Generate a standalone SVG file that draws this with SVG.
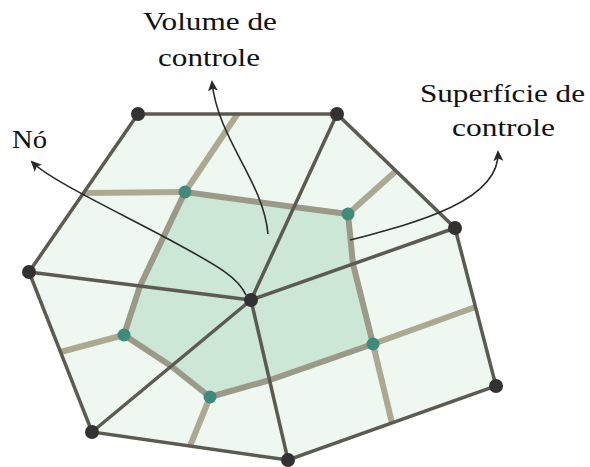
<svg xmlns="http://www.w3.org/2000/svg" width="590" height="467" viewBox="0 0 590 467">
<style>
.lbl{font-family:"Liberation Serif","DejaVu Serif",serif;font-size:25px;fill:#111}
.edge{stroke:#5c5b51;stroke-width:3.5;fill:none;stroke-linecap:round}
.cs{stroke:#9b9a88;stroke-width:6;fill:none;stroke-linejoin:round}
.tan{stroke:#aba990;stroke-width:6;fill:none}
.node{fill:#333133}
.cv{fill:#408a7c}
.arr{stroke:#2a2a2a;stroke-width:1.6;fill:none;marker-end:url(#ah)}
</style>
<defs>
<marker id="ah" markerWidth="12" markerHeight="12" refX="9" refY="5" orient="auto" markerUnits="userSpaceOnUse">
<path d="M0,0 L11,5 L0,10 L2.5,5 Z" fill="#2a2a2a"/>
</marker>
</defs>
<g id="fill">
<polygon points="138,114 337,114 455,228 496,386 288,460 92,432 29,272" fill="#eef8f0"/>
<polygon points="185,192 294,207 348,214 353,264 373,344 270,380 210,397 171,366 124,335 140,286" fill="#cde7d6"/>
</g>
<g id="tan-lines">
<line class="tan" x1="185" y1="192" x2="83.5" y2="193"/>
<line class="tan" x1="185" y1="192" x2="237.5" y2="114"/>
<line class="tan" x1="348" y1="214" x2="396" y2="171"/>
<line class="tan" x1="373" y1="344" x2="475.5" y2="307"/>
<line class="tan" x1="373" y1="344" x2="392" y2="423"/>
<line class="tan" x1="210" y1="397" x2="190" y2="446"/>
<line class="tan" x1="124" y1="335" x2="60.5" y2="352"/>
</g>
<g id="control-surface">
<polygon class="cs" points="185,192 294,207 348,214 353,264 373,344 270,380 210,397 171,366 124,335 140,286"/>
</g>
<g id="connectors">
<polygon class="edge" points="138,114 337,114 455,228 496,386 288,460 92,432 29,272"/>
<line class="edge" x1="251" y1="300" x2="337" y2="114"/>
<line class="edge" x1="251" y1="300" x2="455" y2="228"/>
<line class="edge" x1="251" y1="300" x2="288" y2="460"/>
<line class="edge" x1="251" y1="300" x2="92" y2="432"/>
<line class="edge" x1="251" y1="300" x2="29" y2="272"/>
<path class="arr" d="M268,234 C263,180 218,140 212,82"/>
<path class="arr" d="M246,295 C238,278 222,268 170,240 S50,180 32,162"/>
<path class="arr" d="M350,240 C420,222 500,200 498,152"/>
</g>
<g id="nodes">
<circle id="n-a" class="node" cx="138" cy="114" r="7"/>
<circle id="n-b" class="node" cx="337" cy="114" r="7"/>
<circle id="n-c" class="node" cx="455" cy="228" r="7"/>
<circle id="n-d" class="node" cx="496" cy="386" r="7"/>
<circle id="n-e" class="node" cx="288" cy="460" r="7"/>
<circle id="n-f" class="node" cx="92" cy="432" r="7"/>
<circle id="n-g" class="node" cx="29" cy="272" r="7"/>
<circle id="n-o" class="node" cx="251" cy="300" r="7"/>
</g>
<g id="cv-points">
<circle id="p1" class="cv" cx="185" cy="192" r="6.5"/>
<circle id="p2" class="cv" cx="348" cy="214" r="6.5"/>
<circle id="p3" class="cv" cx="373" cy="344" r="6.5"/>
<circle id="p4" class="cv" cx="210" cy="397" r="6.5"/>
<circle id="p5" class="cv" cx="124" cy="335" r="6.5"/>
</g>
<g id="labels">
<text class="lbl" x="143" y="30" textLength="134" lengthAdjust="spacingAndGlyphs">Volume de</text>
<text class="lbl" x="158" y="66" textLength="102" lengthAdjust="spacingAndGlyphs">controle</text>
<text class="lbl" x="12" y="148" textLength="35" lengthAdjust="spacingAndGlyphs">Nó</text>
<text class="lbl" x="420" y="102" textLength="165" lengthAdjust="spacingAndGlyphs">Superfície de</text>
<text class="lbl" x="452" y="136" textLength="103" lengthAdjust="spacingAndGlyphs">controle</text>
</g>
</svg>
